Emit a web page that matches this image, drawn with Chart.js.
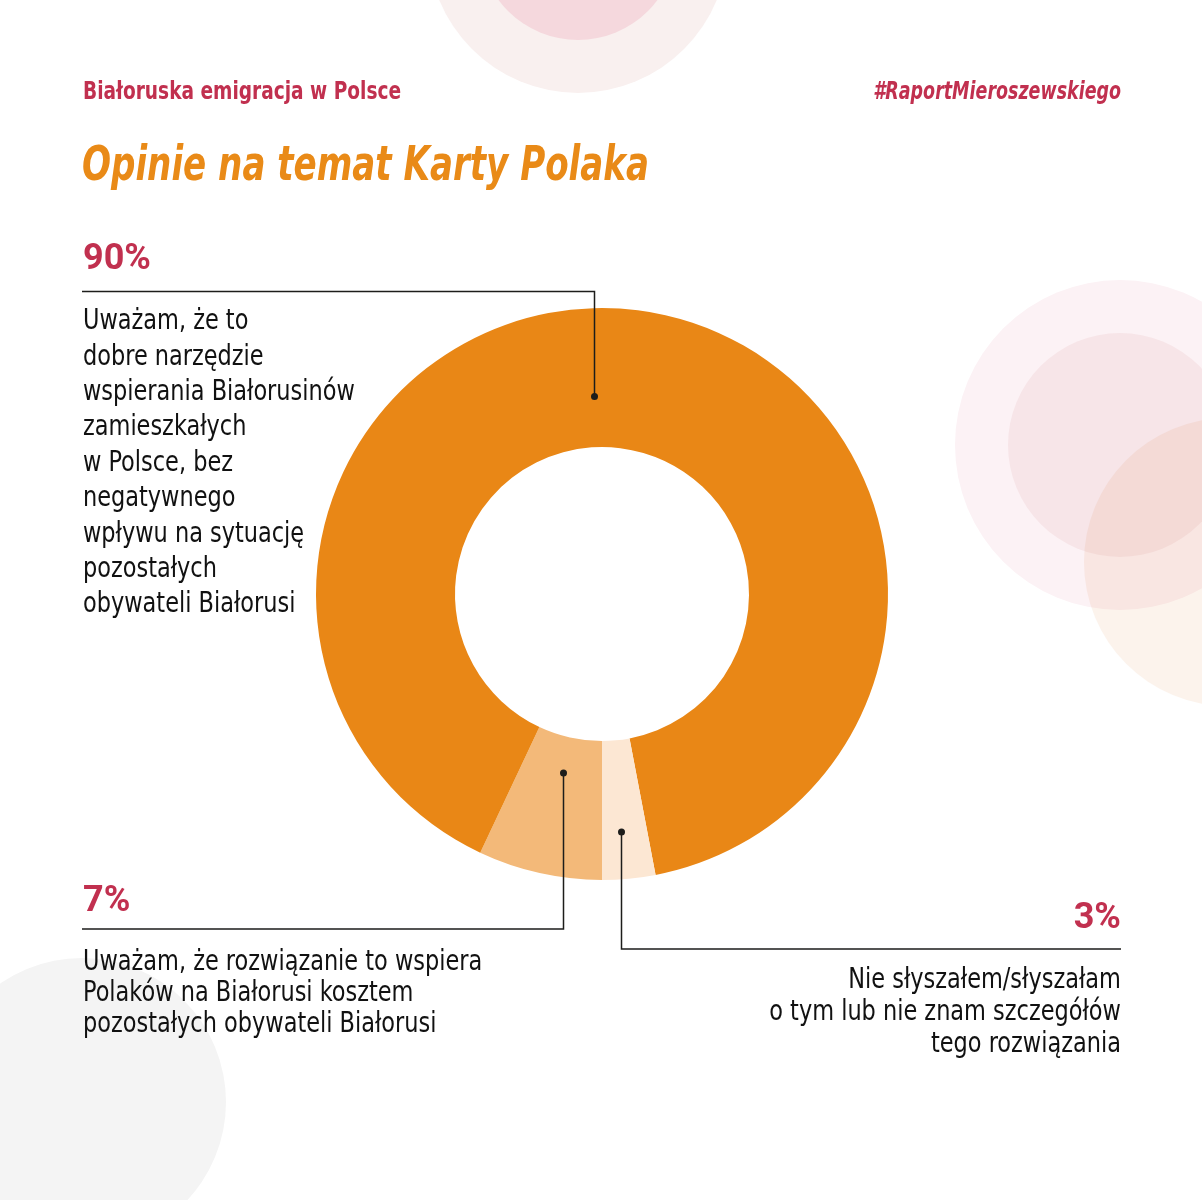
<!DOCTYPE html>
<html lang="pl">
<head>
<meta charset="utf-8">
<title>Opinie na temat Karty Polaka</title>
<script src="https://cdn.jsdelivr.net/npm/chart.js@4.4.1/dist/chart.umd.min.js"></script>
<style>
  html, body { margin: 0; padding: 0; background: #fff; overflow: hidden; }
  #wrap { position: relative; width: 1202px; height: 1200px; }
  #chart { position: absolute; left: 0; top: 0; }
  .txt { position: absolute; white-space: nowrap; color: #111; font-family: "DejaVu Sans Condensed", "Liberation Sans Narrow", sans-serif; transform-origin: left top; }
  .head { font-size: 24px; line-height: 24px; font-weight: 700; color: #C1304F; transform: scaleX(0.86); }
  .tag { font-style: italic; transform: scaleX(0.81); transform-origin: right top; }
  .title { font-size: 48px; line-height: 48px; font-weight: 700; font-style: italic; color: #E98A17; transform: scaleX(0.79); }
  .pct { font-family: Roboto, "Noto Sans", sans-serif; font-size: 36px; line-height: 36px; font-weight: 700; color: #C1304F; }
  .body { font-size: 29px; transform: scaleX(0.86); }
  .right { text-align: right; transform-origin: right top; }
</style>
</head>
<body>
<div id="wrap">
  <canvas id="chart" width="1202" height="1200"></canvas>
  <div class="txt head" style="left:83px; top:79px">Białoruska emigracja w Polsce</div>
  <div class="txt head tag" style="right:81px; top:79px">#RaportMieroszewskiego</div>
  <div class="txt title" style="left:82px; top:139px">Opinie na temat Karty Polaka</div>
</div>
<script>
// order follows the ring clockwise, starting at 6 o'clock
const values = [7, 90, 3];
const sliceColors = ['#F3B979', '#E98716', '#FCE7D3'];
const answers = [
  ['Uważam, że rozwiązanie to wspiera', 'Polaków na Białorusi kosztem', 'pozostałych obywateli Białorusi'],
  ['Uważam, że to', 'dobre narzędzie', 'wspierania Białorusinów', 'zamieszkałych', 'w Polsce, bez', 'negatywnego', 'wpływu na sytuację', 'pozostałych', 'obywateli Białorusi'],
  ['Nie słyszałem/słyszałam', 'o tym lub nie znam szczegółów', 'tego rozwiązania']
];

// where each label sits and how its leader line runs
const layout = [
  { side: 'left',  x: 83,   pctTop: 881, lineY: 929,   textTop: 944.5, lh: 31,   dotAt: 0.484, dotR: 0.26 },
  { side: 'left',  x: 83,   pctTop: 239, lineY: 291.5, textTop: 302.2, lh: 35.4, dotAt: 0.4705, dotR: 0.364 },
  { side: 'right', x: 1121, pctTop: 898, lineY: 949,   textTop: 961.5, lh: 32,   dotAt: 0.583, dotR: 0.66 }
];

// decorative background circles
const blobs = [
  { x: 578, y: -57, r: 150, c: '#F9F0EF' },
  { x: 578, y: -59, r: 99,  c: '#F5D8DD' },
  { x: 1120, y: 445, r: 165, c: '#FCF2F5' },
  { x: 1120, y: 445, r: 112, c: '#F7E5E8' },
  { x: 1228, y: 562, r: 144, c: '#FCF3EC', blend: 'multiply' },
  { x: 82,  y: 1102, r: 144, c: '#F4F4F4' }
];

const wrap = document.getElementById('wrap');
values.forEach((v, i) => {
  const L = layout[i];
  const pos = L.side === 'left' ? 'left:' + L.x + 'px;' : 'right:' + (1202 - L.x) + 'px;';
  const p = document.createElement('div');
  p.className = 'txt pct';
  p.style.cssText = pos + 'top:' + L.pctTop + 'px';
  p.textContent = v + '%';
  wrap.appendChild(p);
  const b = document.createElement('div');
  b.className = 'txt body' + (L.side === 'right' ? ' right' : '');
  b.style.cssText = pos + 'top:' + L.textTop + 'px; line-height:' + L.lh + 'px';
  b.innerHTML = answers[i].join('<br>');
  wrap.appendChild(b);
});

const backdrop = {
  id: 'backdrop',
  beforeDraw(chart) {
    const ctx = chart.ctx;
    ctx.save();
    ctx.fillStyle = '#fff';
    ctx.fillRect(0, 0, chart.width, chart.height);
    blobs.forEach(b => {
      ctx.globalCompositeOperation = b.blend || 'source-over';
      ctx.beginPath();
      ctx.arc(b.x, b.y, b.r, 0, Math.PI * 2);
      ctx.fillStyle = b.c;
      ctx.fill();
    });
    ctx.restore();
  }
};

const leaders = {
  id: 'leaders',
  afterDatasetsDraw(chart) {
    const ctx = chart.ctx;
    const arcs = chart.getDatasetMeta(0).data;
    ctx.save();
    ctx.strokeStyle = '#1d1d1b';
    ctx.fillStyle = '#1d1d1b';
    ctx.lineWidth = 1.5;
    arcs.forEach((arc, i) => {
      const L = layout[i];
      const p = arc.getProps(['x', 'y', 'startAngle', 'endAngle', 'innerRadius', 'outerRadius'], true);
      const a = p.startAngle + L.dotAt * (p.endAngle - p.startAngle);
      const r = p.innerRadius + L.dotR * (p.outerRadius - p.innerRadius);
      const px = Math.round(p.x + Math.cos(a) * r) + 0.5;
      const py = p.y + Math.sin(a) * r;
      const endX = L.side === 'left' ? L.x - 1 : L.x;
      ctx.beginPath();
      ctx.moveTo(px, py);
      ctx.lineTo(px, L.lineY);
      ctx.lineTo(endX, L.lineY);
      ctx.stroke();
      ctx.beginPath();
      ctx.arc(px, py, 3.5, 0, Math.PI * 2);
      ctx.fill();
    });
    ctx.restore();
  }
};

new Chart(document.getElementById('chart'), {
  type: 'doughnut',
  data: {
    labels: answers.map(a => a.join(' ')),
    datasets: [{
      data: values,
      backgroundColor: sliceColors,
      borderWidth: 0,
      hoverOffset: 0,
      offset: 0
    }]
  },
  options: {
    responsive: false,
    animation: false,
    rotation: 180,
    cutout: '51.4%',
    layout: { padding: { left: 316, right: 314, top: 308, bottom: 320 } },
    plugins: { legend: { display: false }, tooltip: { enabled: false } },
    events: []
  },
  plugins: [backdrop, leaders]
});
</script>
</body>
</html>
